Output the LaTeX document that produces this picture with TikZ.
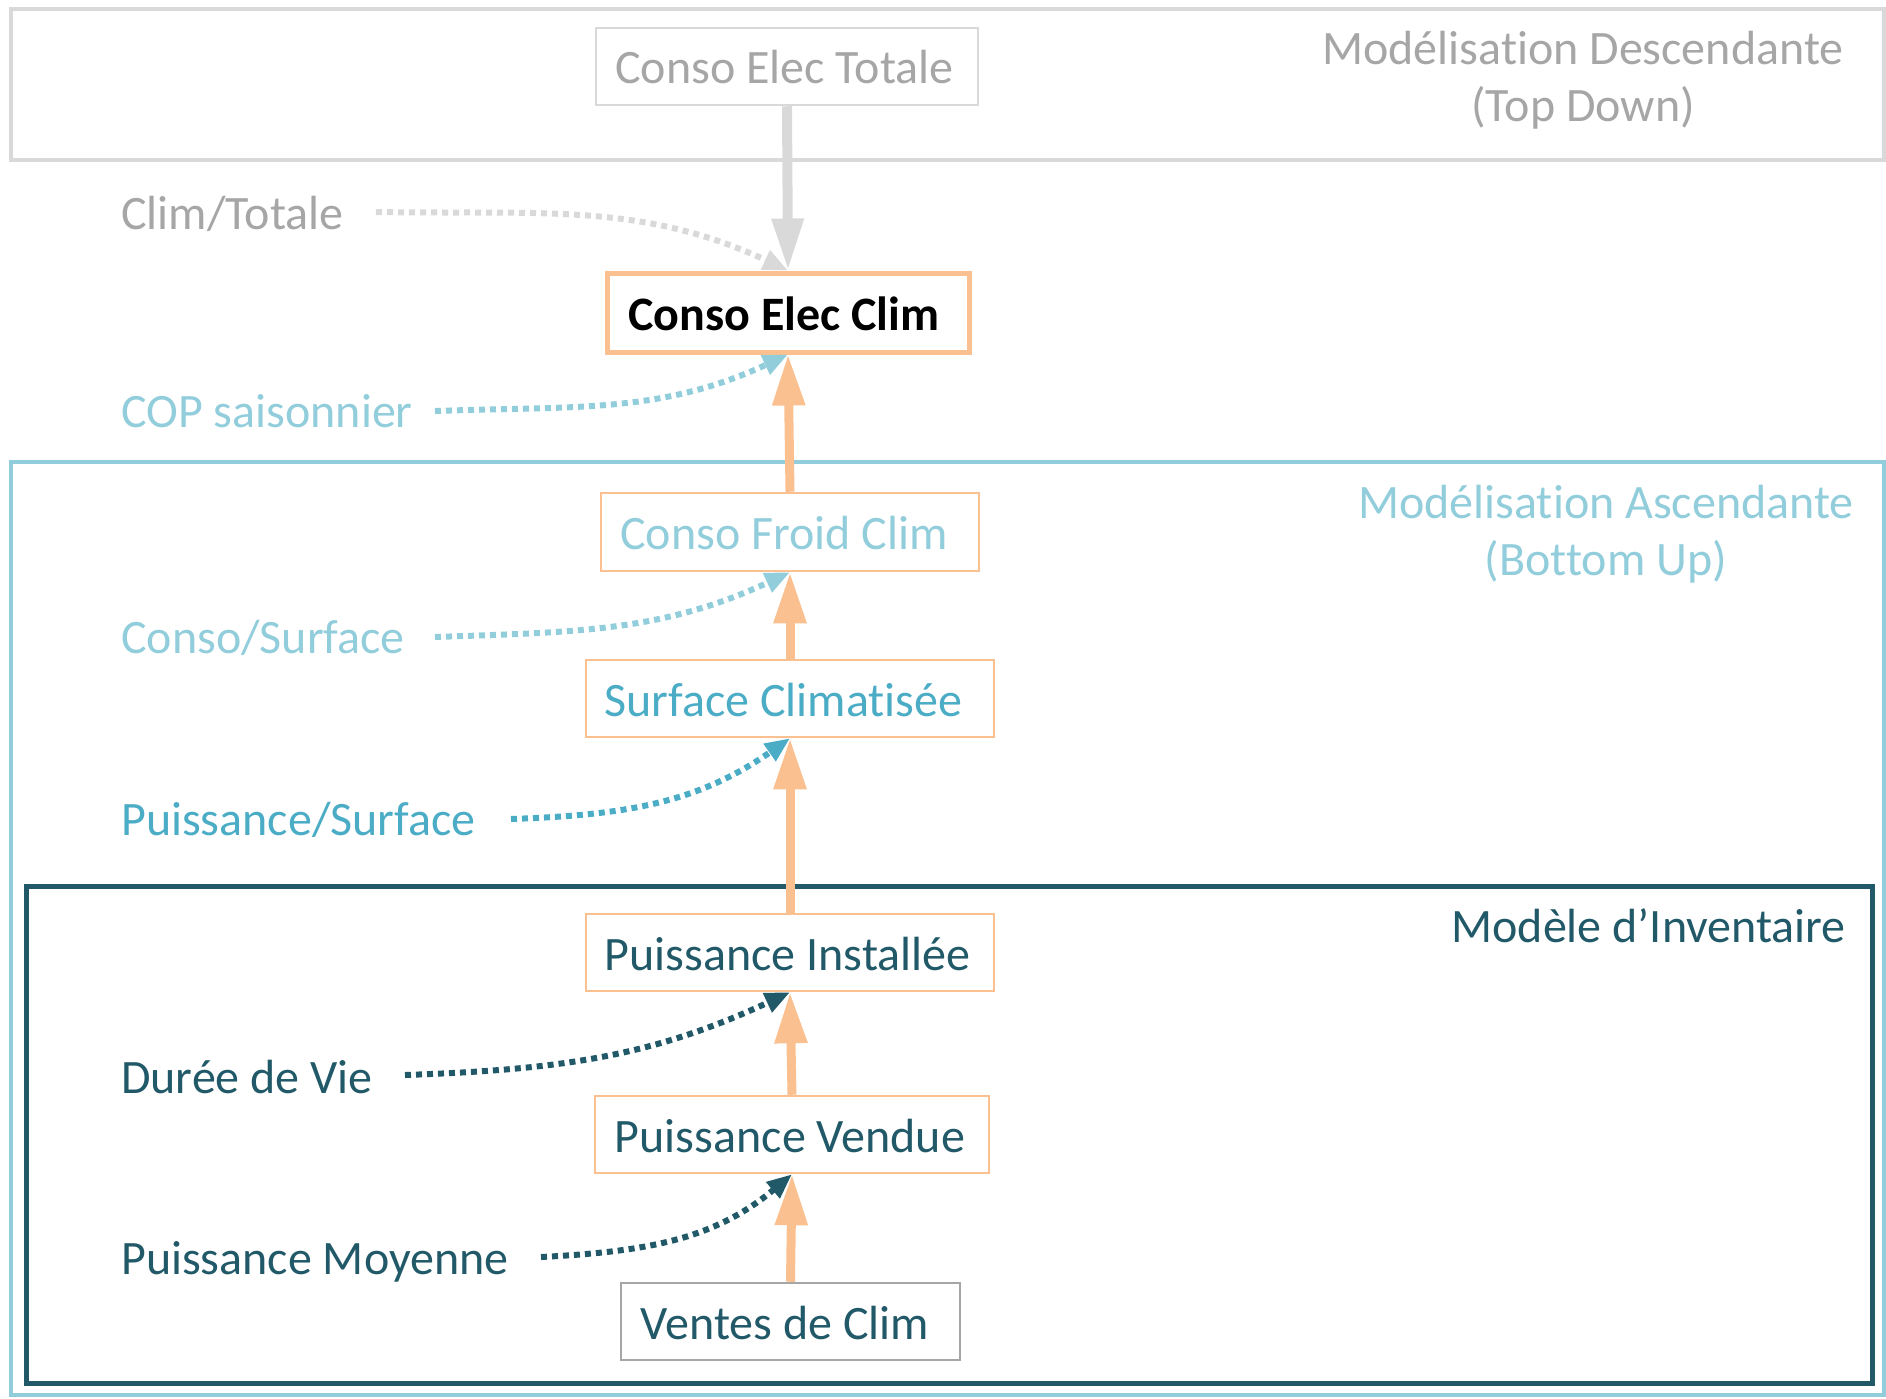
\documentclass[tikz,border=0pt]{standalone}
\usepackage{fontspec}
\setmainfont{Carlito}[Ligatures=NoCommon]
\usetikzlibrary{arrows.meta}
\definecolor{grayT}{HTML}{A6A6A6}
\definecolor{grayL}{HTML}{D9D9D9}
\definecolor{orng}{HTML}{FAC090}
\definecolor{lblue}{HTML}{92CDDC}
\definecolor{mblue}{HTML}{4BACC6}
\definecolor{teal}{HTML}{215968}
\begin{document}
\begin{tikzpicture}[x=1pt,y=-1pt,
  txt/.style={font=\fontsize{48}{57}\selectfont},
  box/.style={txt, draw=orng, line width=2.5pt, fill=white, inner sep=0pt,
    text height=35pt, text depth=0pt},
  lbl/.style={txt, anchor=base west, inner sep=0pt},
  grp/.style={txt, anchor=base, inner sep=0pt},
  flow/.style={draw=orng, line width=9pt, -{Triangle[width=31pt,length=51pt]}},
  dots/.style={line width=6pt, dash pattern=on 6pt off 5pt,
    -{Triangle[width=20pt,length=25pt]}},
  frame/.style={line width=4pt}
]
\useasboundingbox (0,0) rectangle (1886,1399);

% frames
\draw[frame, draw=grayL] (11,9) rectangle (1884,160);
\draw[frame, draw=lblue] (11,462) rectangle (1884,1395);
\draw[frame, draw=teal, line width=5pt] (26,886) rectangle (1872,1383);

% group labels
\node[grp, text=grayT] (tdA) at (1583,65) {Modélisation Descendante};
\node[grp, text=grayT] (tdB) at (1583,122) {(Top Down)};
\node[grp, text=lblue] (buA) at (1606,518) {Modélisation Ascendante};
\node[grp, text=lblue] (buB) at (1606,575) {(Bottom Up)};
\node[txt, anchor=base east, inner sep=0pt, text=teal] (inv) at (1846,942) {Modèle d’Inventaire};

% boxes
\node[box, draw=grayL, text=grayT, minimum width=382pt, minimum height=77pt] (tot) at (787,66.5) {Conso Elec Totale\kern5pt};
\node[box, line width=5pt, font=\fontsize{48}{57}\selectfont\bfseries, minimum width=362pt, minimum height=79pt] (elec) at (788,312.5) {Conso Elec Clim\kern8pt};
\node[box, text=lblue, minimum width=378pt, minimum height=78pt] (froid) at (790,532) {Conso Froid Clim\kern12pt};
\node[box, text=mblue, minimum width=408pt, minimum height=77pt] (surf) at (790,698.5) {Surface Climatisée\kern13pt};
\node[box, text=teal, minimum width=408pt, minimum height=77pt] (inst) at (790,952.5) {Puissance Installée\kern5pt};
\node[box, text=teal, minimum width=394pt, minimum height=77pt] (vend) at (792,1134.5) {Puissance Vendue\kern4pt};
\node[box, draw=grayT, text=teal, minimum width=339pt, minimum height=77pt] (ventes) at (790.5,1321.5) {Ventes de Clim\kern11pt};

% side labels
\node[lbl, text=grayT] (ct) at (121,229) {Clim/Totale};
\node[lbl, text=lblue] (cop) at (121,427) {COP saisonnier};
\node[lbl, text=lblue] (cs) at (121,653) {Conso/Surface};
\node[lbl, text=mblue] (ps) at (121,835) {Puissance/Surface};
\node[lbl, text=teal] (dv) at (121,1093) {Durée de Vie};
\node[lbl, text=teal] (pm) at (121,1274) {Puissance Moyenne};

\coordinate (ctE) at (376,212);
\coordinate (copE) at (435,411);
\coordinate (csE) at (435,637);
\coordinate (psE) at (511,819);
\coordinate (dvE) at (405,1075);
\coordinate (pmE) at (541,1257);

% dotted connectors
\draw[dots, draw=grayL] (ctE) to[out=-1, in=155] (elec.north);
\draw[dots, draw=lblue] (copE) to[out=2, in=205] (elec.south);
\draw[dots, draw=lblue] (csE) to[out=2, in=205] (froid.south);
\draw[dots, draw=mblue] (psE) to[out=2, in=215] (surf.south);
\draw[dots, draw=teal] (dvE) to[out=2, in=205] (inst.south);
\draw[dots, draw=teal] (pmE) to[out=3, in=220] (vend.south);

% main flow
\draw[draw=grayL, line width=10pt, -{Triangle[width=30pt,length=52pt]}] (tot.south) -- (elec.north);
\draw[flow] (froid.north) -- (elec.south);
\draw[flow] (surf.north) -- (froid.south);
\draw[flow] (inst.north) -- (surf.south);
\draw[flow] (vend.north) -- (inst.south);
\draw[flow] (ventes.north) -- (vend.south);
\end{tikzpicture}
\end{document}
